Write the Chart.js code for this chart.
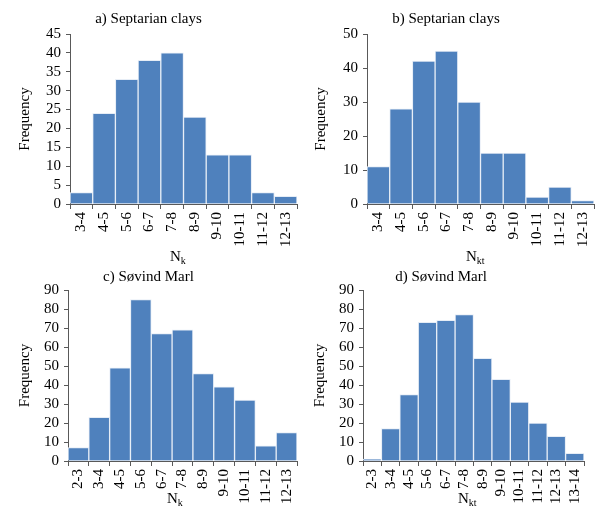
<!DOCTYPE html>
<html>
<head>
<meta charset="utf-8">
<script src="https://cdn.jsdelivr.net/npm/chart.js@4"></script>
<style>
    body { margin: 0; background: #fff; overflow: hidden; }
    #wrap { position: relative; width: 596px; height: 519px; overflow: hidden; }
    canvas { position: absolute; }
    .xlabel { position: absolute; font: 15px "Liberation Serif", serif; line-height: 1; color: #000; white-space: nowrap; }
    .xlabel sub { font-size: 10px; vertical-align: -3px; }
</style>
</head>
<body>
<div id="wrap">
    <canvas id="ca" width="332" height="260" style="left:0;top:0"></canvas>
    <canvas id="cb" width="330" height="260" style="left:298px;top:0"></canvas>
    <canvas id="cc" width="314" height="259" style="left:0;top:260px"></canvas>
    <canvas id="cd" width="304" height="259" style="left:298px;top:260px"></canvas>
    <div class="xlabel" style="left:170px;top:249px">N<sub>k</sub></div>
    <div class="xlabel" style="left:466px;top:249px">N<sub>kt</sub></div>
    <div class="xlabel" style="left:167px;top:491px">N<sub>k</sub></div>
    <div class="xlabel" style="left:458px;top:491px">N<sub>kt</sub></div>
</div>
<script>
const septarianBins = ['3-4', '4-5', '5-6', '6-7', '7-8', '8-9', '9-10', '10-11', '11-12', '12-13'];
const septarianNk = [3, 24, 33, 38, 40, 23, 13, 13, 3, 2];
const septarianNkt = [11, 28, 42, 45, 30, 15, 15, 2, 5, 1];

const sovindBinsNk = ['2-3', '3-4', '4-5', '5-6', '6-7', '7-8', '8-9', '9-10', '10-11', '11-12', '12-13'];
const sovindNk = [7, 23, 49, 85, 67, 69, 46, 39, 32, 8, 15];
const sovindBinsNkt = ['2-3', '3-4', '4-5', '5-6', '6-7', '7-8', '8-9', '9-10', '10-11', '11-12', '12-13', '13-14'];
const sovindNkt = [1, 17, 35, 73, 74, 77, 54, 43, 31, 20, 13, 4];

const BAR_COLOR = '#4f81bd';
const AXIS_COLOR = '#595959';
const FONT = { family: '"Liberation Serif", "Times New Roman", serif', size: 15, weight: 'normal' };

Chart.defaults.color = '#000';
Chart.defaults.font = FONT;

// canvases are wider than their chart area so the centred title sits where the original has it
const makeHistogram = (id, { title, labels, values, yMax, yStep, yWidth, xHeight, titlePad, yTitlePad, padRight }) => {
    new Chart(document.getElementById(id), {
        type: 'bar',
        data: {
            labels: labels,
            datasets: [{
                data: values,
                backgroundColor: BAR_COLOR,
                borderColor: '#e6edf6',
                borderWidth: 1,
                categoryPercentage: 1,
                barPercentage: 1,
            }],
        },
        options: {
            responsive: false,
            animation: false,
            layout: { padding: { left: 0, right: padRight, top: 0, bottom: 0 } },
            plugins: {
                legend: { display: false },
                tooltip: { enabled: false },
                title: { display: true, text: title, font: FONT, padding: titlePad },
            },
            scales: {
                x: {
                    grid: { offset: true, drawOnChartArea: false, drawTicks: true, tickLength: 5, color: AXIS_COLOR },
                    border: { color: AXIS_COLOR },
                    ticks: { autoSkip: false, minRotation: 90, maxRotation: 90, padding: 3, font: FONT },
                    afterFit: (scale) => { scale.height = xHeight; },
                },
                y: {
                    min: 0,
                    max: yMax,
                    grid: { drawOnChartArea: false, drawTicks: true, tickLength: 4, color: AXIS_COLOR },
                    border: { color: AXIS_COLOR },
                    ticks: { stepSize: yStep, autoSkip: false, padding: 5, font: FONT },
                    title: { display: true, text: 'Frequency', font: FONT, padding: { top: yTitlePad, bottom: 0 } },
                    afterFit: (scale) => { scale.width = yWidth; },
                },
            },
        },
    });
};

makeHistogram('ca', {
    title: 'a) Septarian clays', labels: septarianBins, values: septarianNk,
    yMax: 45, yStep: 5, yWidth: 70, xHeight: 56, titlePad: { top: 10, bottom: 6 }, yTitlePad: 16, padRight: 35,
});
makeHistogram('cb', {
    title: 'b) Septarian clays', labels: septarianBins, values: septarianNkt,
    yMax: 50, yStep: 10, yWidth: 69, xHeight: 56, titlePad: { top: 10, bottom: 6 }, yTitlePad: 14, padRight: 34,
});
makeHistogram('cc', {
    title: 'c) Søvind Marl', labels: sovindBinsNk, values: sovindNk,
    yMax: 90, yStep: 10, yWidth: 68, xHeight: 58, titlePad: { top: 8, bottom: 4 }, yTitlePad: 16, padRight: 17,
});
makeHistogram('cd', {
    title: 'd) Søvind Marl', labels: sovindBinsNkt, values: sovindNkt,
    yMax: 90, yStep: 10, yWidth: 65, xHeight: 58, titlePad: { top: 8, bottom: 4 }, yTitlePad: 13, padRight: 18,
});
</script>
</body>
</html>
